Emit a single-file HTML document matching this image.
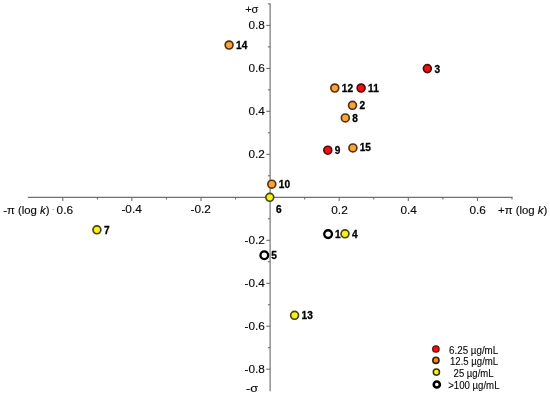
<!DOCTYPE html>
<html><head><meta charset="utf-8"><title>chart</title>
<style>
html,body{margin:0;padding:0;background:#fff;}
body{width:550px;height:395px;overflow:hidden;font-family:"Liberation Sans",sans-serif;}
svg{display:block;filter:blur(0.35px)}
text{font-family:"Liberation Sans",sans-serif;fill:#0a0a0a}
.ax{font-size:11.8px;stroke:#0a0a0a;stroke-width:0.15px}
.lb{font-size:10.1px;font-weight:bold;fill:#000;stroke:#000;stroke-width:0.3px}
.lg{font-size:10px;stroke:#0a0a0a;stroke-width:0.12px}
</style></head><body>
<svg width="550" height="395" viewBox="0 0 550 395">
<rect width="550" height="395" fill="#fff"/>

<g stroke="#707070" stroke-width="1.15" fill="none">
<line x1="27.8" y1="197.3" x2="512.5" y2="197.3"/>
<line x1="270.1" y1="3.4" x2="270.1" y2="391.2"/>
</g>
<g stroke="#626262" stroke-width="1" fill="none">
<line x1="62.8" y1="197.3" x2="62.8" y2="201.10000000000002"/>
<line x1="97.4" y1="197.3" x2="97.4" y2="199.5"/>
<line x1="131.9" y1="197.3" x2="131.9" y2="201.10000000000002"/>
<line x1="166.4" y1="197.3" x2="166.4" y2="199.5"/>
<line x1="201.0" y1="197.3" x2="201.0" y2="201.10000000000002"/>
<line x1="235.6" y1="197.3" x2="235.6" y2="199.5"/>
<line x1="304.7" y1="197.3" x2="304.7" y2="199.5"/>
<line x1="339.2" y1="197.3" x2="339.2" y2="201.10000000000002"/>
<line x1="373.8" y1="197.3" x2="373.8" y2="199.5"/>
<line x1="408.3" y1="197.3" x2="408.3" y2="201.10000000000002"/>
<line x1="442.9" y1="197.3" x2="442.9" y2="199.5"/>
<line x1="477.4" y1="197.3" x2="477.4" y2="201.10000000000002"/>
<line x1="512.0" y1="197.3" x2="512.0" y2="199.5"/>
<line x1="266.3" y1="369.2" x2="270.1" y2="369.2"/>
<line x1="267.90000000000003" y1="347.7" x2="270.1" y2="347.7"/>
<line x1="266.3" y1="326.2" x2="270.1" y2="326.2"/>
<line x1="267.90000000000003" y1="304.8" x2="270.1" y2="304.8"/>
<line x1="266.3" y1="283.3" x2="270.1" y2="283.3"/>
<line x1="267.90000000000003" y1="261.8" x2="270.1" y2="261.8"/>
<line x1="266.3" y1="240.3" x2="270.1" y2="240.3"/>
<line x1="267.90000000000003" y1="218.8" x2="270.1" y2="218.8"/>
<line x1="267.90000000000003" y1="175.8" x2="270.1" y2="175.8"/>
<line x1="266.3" y1="154.3" x2="270.1" y2="154.3"/>
<line x1="267.90000000000003" y1="132.8" x2="270.1" y2="132.8"/>
<line x1="266.3" y1="111.3" x2="270.1" y2="111.3"/>
<line x1="267.90000000000003" y1="89.9" x2="270.1" y2="89.9"/>
<line x1="266.3" y1="68.4" x2="270.1" y2="68.4"/>
<line x1="267.90000000000003" y1="46.9" x2="270.1" y2="46.9"/>
<line x1="266.3" y1="25.4" x2="270.1" y2="25.4"/>
<line x1="267.90000000000003" y1="3.9" x2="270.1" y2="3.9"/>
</g>
<text class="ax" x="264.9" y="157.9" text-anchor="end">0.2</text>
<text class="ax" x="264.9" y="244.2" text-anchor="end">-0.2</text>
<text class="ax" x="264.9" y="114.9" text-anchor="end">0.4</text>
<text class="ax" x="264.9" y="287.2" text-anchor="end">-0.4</text>
<text class="ax" x="264.9" y="72.0" text-anchor="end">0.6</text>
<text class="ax" x="264.9" y="330.1" text-anchor="end">-0.6</text>
<text class="ax" x="264.9" y="29.0" text-anchor="end">0.8</text>
<text class="ax" x="264.9" y="373.1" text-anchor="end">-0.8</text>
<text class="ax" x="339.5" y="213.5" text-anchor="middle">0.2</text>
<text class="ax" x="408.6" y="213.5" text-anchor="middle">0.4</text>
<text class="ax" x="477.7" y="213.5" text-anchor="middle">0.6</text>
<text class="ax" x="200.7" y="213.4" text-anchor="middle">-0.2</text>
<text class="ax" x="131.6" y="213.4" text-anchor="middle">-0.4</text>
<circle cx="53.1" cy="209.6" r="0.7" fill="#8a8a8a"/>
<text class="ax" x="56.6" y="213.5">0.6</text>
<text class="ax" x="3.2" y="213.7" textLength="46.4" lengthAdjust="spacingAndGlyphs">-π (log <tspan font-style="italic">k</tspan>)</text>
<text class="ax" x="498.0" y="213.5" textLength="49.3" lengthAdjust="spacingAndGlyphs">+π (log <tspan font-style="italic">k</tspan>)</text>
<text class="ax" x="245.2" y="12.8" textLength="13.2" lengthAdjust="spacingAndGlyphs">+σ</text>
<text class="ax" x="246" y="392.2" textLength="12" lengthAdjust="spacingAndGlyphs">-σ</text>
<circle cx="229.1" cy="45.0" r="3.95" fill="#fba23c" stroke="#52320c" stroke-width="1.65"/>
<text class="lb" x="236.1" y="48.9">14</text>
<circle cx="427.35" cy="68.6" r="3.95" fill="#ee1111" stroke="#5a0808" stroke-width="1.65"/>
<text class="lb" x="434.4" y="72.5">3</text>
<circle cx="334.8" cy="88.0" r="3.95" fill="#fba23c" stroke="#52320c" stroke-width="1.65"/>
<text class="lb" x="341.8" y="91.9">12</text>
<circle cx="361.1" cy="88.0" r="3.95" fill="#ee1111" stroke="#5a0808" stroke-width="1.65"/>
<text class="lb" x="368.1" y="91.9">11</text>
<circle cx="352.5" cy="105.3" r="3.95" fill="#fba23c" stroke="#52320c" stroke-width="1.65"/>
<text class="lb" x="359.5" y="109.2">2</text>
<circle cx="345.3" cy="117.9" r="3.95" fill="#fba23c" stroke="#52320c" stroke-width="1.65"/>
<text class="lb" x="352.3" y="121.8">8</text>
<circle cx="352.9" cy="147.9" r="3.95" fill="#fba23c" stroke="#52320c" stroke-width="1.65"/>
<text class="lb" x="359.7" y="151.2">15</text>
<circle cx="327.8" cy="150.2" r="3.95" fill="#ee1111" stroke="#5a0808" stroke-width="1.65"/>
<text class="lb" x="334.8" y="154.1">9</text>
<circle cx="271.8" cy="184.2" r="3.95" fill="#fba23c" stroke="#52320c" stroke-width="1.65"/>
<text class="lb" x="278.8" y="188.1">10</text>
<circle cx="269.8" cy="197.3" r="3.95" fill="#f6f01e" stroke="#464608" stroke-width="1.65"/>
<text class="lb" x="276.0" y="212.8">6</text>
<circle cx="96.9" cy="229.8" r="3.95" fill="#f6f01e" stroke="#464608" stroke-width="1.65"/>
<text class="lb" x="103.9" y="233.7">7</text>
<circle cx="328.1" cy="234.1" r="3.85" fill="#fff" stroke="#000" stroke-width="2.35"/>
<text class="lb" x="335.1" y="238.0">1</text>
<circle cx="345.0" cy="233.8" r="3.95" fill="#f6f01e" stroke="#464608" stroke-width="1.65"/>
<text class="lb" x="352.0" y="237.7">4</text>
<circle cx="264.3" cy="255.2" r="3.85" fill="#fff" stroke="#000" stroke-width="2.35"/>
<text class="lb" x="271.3" y="259.1">5</text>
<circle cx="294.6" cy="315.3" r="3.95" fill="#f6f01e" stroke="#464608" stroke-width="1.65"/>
<text class="lb" x="301.6" y="319.2">13</text>
<circle cx="435.9" cy="349.0" r="3.2" fill="#ee1010" stroke="#6a0808" stroke-width="1.3"/>
<text class="lg" x="449.1" y="353.7" textLength="49.1" lengthAdjust="spacingAndGlyphs">6.25 µg/mL</text>
<circle cx="435.9" cy="360.3" r="3.1" fill="#f58620" stroke="#3a2000" stroke-width="1.6"/>
<text class="lg" x="450.0" y="365.1" textLength="48.2" lengthAdjust="spacingAndGlyphs">12.5 µg/mL</text>
<circle cx="436.4" cy="372.1" r="3.1" fill="#f8f220" stroke="#303000" stroke-width="1.5"/>
<text class="lg" x="453.6" y="377.2" textLength="40.0" lengthAdjust="spacingAndGlyphs">25 µg/mL</text>
<circle cx="436.8" cy="384.5" r="3.05" fill="#ffffff" stroke="#000" stroke-width="2.6"/>
<text class="lg" x="448.2" y="389.2" textLength="51.3" lengthAdjust="spacingAndGlyphs">>100 µg/mL</text>
</svg></body></html>
